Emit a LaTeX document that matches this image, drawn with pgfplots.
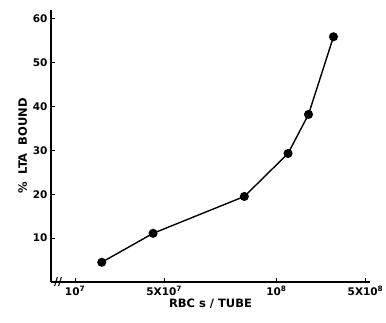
\documentclass[border=0pt]{standalone}
\usepackage{pgfplots}
\pgfplotsset{compat=1.18}
\usepackage{fontspec}
\setmainfont{DejaVu Sans}
\begin{document}
\begin{tikzpicture}[x=1pt,y=1pt]
\begin{axis}[
  scale only axis,
  width=319pt, height=272pt,
  xmin=-0.27, xmax=3.31,
  ymin=0, ymax=62,
  axis lines*=left,
  axis line style={line width=1.3pt},
  tick align=inside,
  tick style={line width=1pt, black},
  major tick length=4pt,
  xtick={0,1,2.26,3.26},
  xticklabels={{\textbf{10}\textsuperscript{\textbf{7}}},{\textbf{5X10}\textsuperscript{\textbf{7}}},{\textbf{10}\textsuperscript{\textbf{8}}},{\textbf{5X10}\textsuperscript{\textbf{8}}}},
  ytick={10,20,30,40,50,60},
  yticklabels={\textbf{10},\textbf{20},\textbf{30},\textbf{40},\textbf{50},\textbf{60}},
  ticklabel style={font=\fontsize{10.5}{12}\selectfont},
  xticklabel style={yshift=-1pt},
  xlabel={\textbf{RBC s / TUBE}},
  ylabel={\textbf{\%\ \ LTA\ \ BOUND}},
  label style={font=\fontsize{11.5}{13}\selectfont},
  xlabel style={yshift=4pt},
  ylabel style={yshift=-1pt},
  clip=false,
]
\addplot[black, line width=1.4pt, mark=*, mark size=3.8pt] coordinates {
  (0.30,4.5) (0.876,11.1) (1.90,19.5) (2.39,29.3) (2.62,38.2) (2.90,55.9)
};
\node[font=\bfseries\fontsize{11}{12}\selectfont, inner sep=0pt] at (axis cs:-0.19,0) {//};
\end{axis}
\pgfresetboundingbox
\path (-51pt,-40pt) rectangle (335pt,282pt);
\end{tikzpicture}
\end{document}
